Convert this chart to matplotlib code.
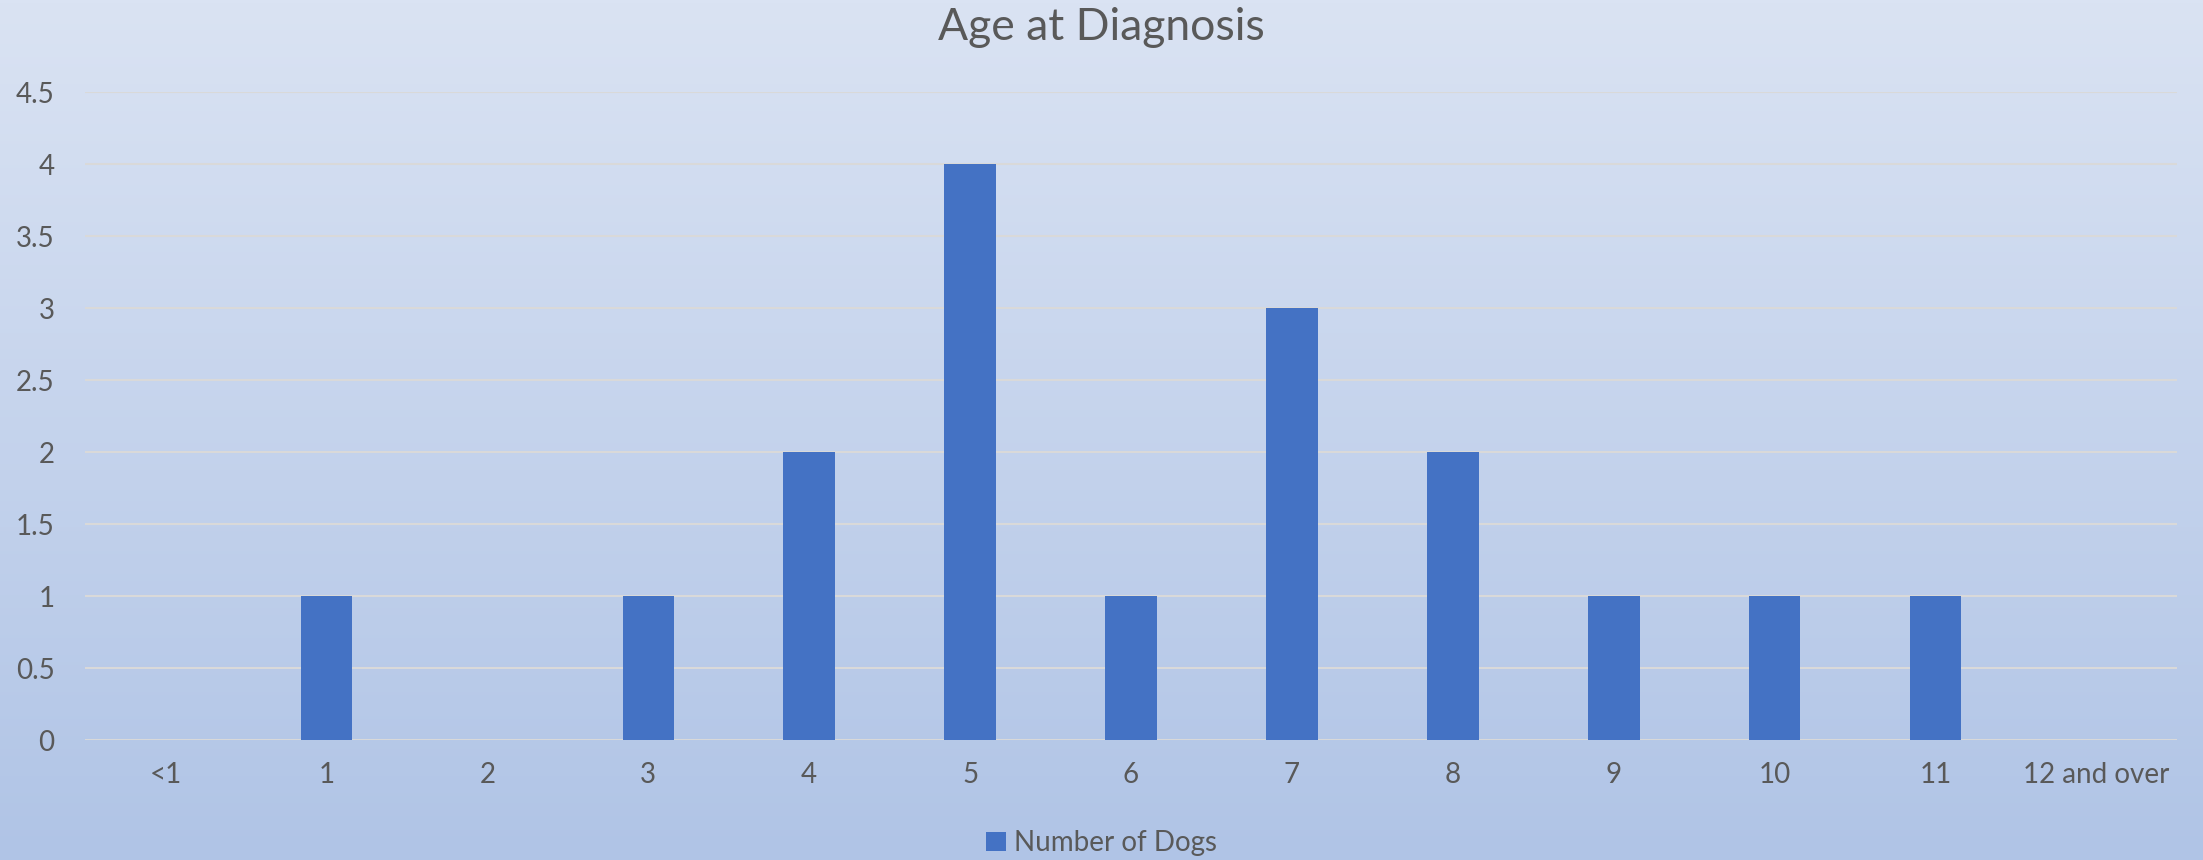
import numpy as np
import matplotlib
matplotlib.use('Agg')
import matplotlib.pyplot as plt

# data
ages = ['<1', '1', '2', '3', '4', '5', '6', '7', '8', '9', '10', '11', '12 and over']
dogs = [0, 1, 0, 1, 2, 4, 1, 3, 2, 1, 1, 1, 0]
yticks = [0, 0.5, 1, 1.5, 2, 2.5, 3, 3.5, 4, 4.5]

TEXT = '#595959'
BAR = '#4472C4'
GRID = '#D9D9D9'

plt.rcParams['font.family'] = ['Lato', 'DejaVu Sans']

fig = plt.figure(figsize=(22.03, 8.6), dpi=100)

# vertical gradient background
bg = fig.add_axes([0, 0, 1, 1], zorder=0)
top = np.array([218, 227, 243]) / 255
bot = np.array([176, 196, 230]) / 255
t = np.linspace(0, 1, 256)[:, None]
grad = (top[None, :] * (1 - t) + bot[None, :] * t)[:, None, :]
bg.imshow(grad, aspect='auto', extent=[0, 1, 0, 1])
bg.axis('off')

ax = fig.add_axes([0.0386, 0.1395, 0.9496, 0.7535], zorder=1)
ax.patch.set_alpha(0)

x = np.arange(len(ages))
ax.bar(x, dogs, width=0.32, color=BAR, label='Number of Dogs', zorder=3)

ax.set_xlim(-0.5, len(ages) - 0.5)
ax.set_ylim(0, 4.5)
ax.set_yticks(yticks)
ax.set_yticklabels([f'{v:g}' for v in yticks])
ax.set_xticks(x)
ax.set_xticklabels(ages)
ax.tick_params(axis='both', length=0, labelsize=20, colors=TEXT)
ax.tick_params(axis='y', pad=22)
ax.tick_params(axis='x', pad=16)
ax.grid(axis='y', color=GRID, linewidth=1.5, zorder=0)
for s in ax.spines.values():
    s.set_visible(False)

fig.text(0.5, 1 - 27 / 860, 'Age at Diagnosis', ha='center', va='center',
         fontsize=32, color=TEXT)

fig.legend(loc='center', bbox_to_anchor=(0.5, 1 - 843 / 860), frameon=False,
           fontsize=20, labelcolor=TEXT, handlelength=0.7, handleheight=0.7,
           handletextpad=0.3)

fig.savefig('out.png', dpi=100)
